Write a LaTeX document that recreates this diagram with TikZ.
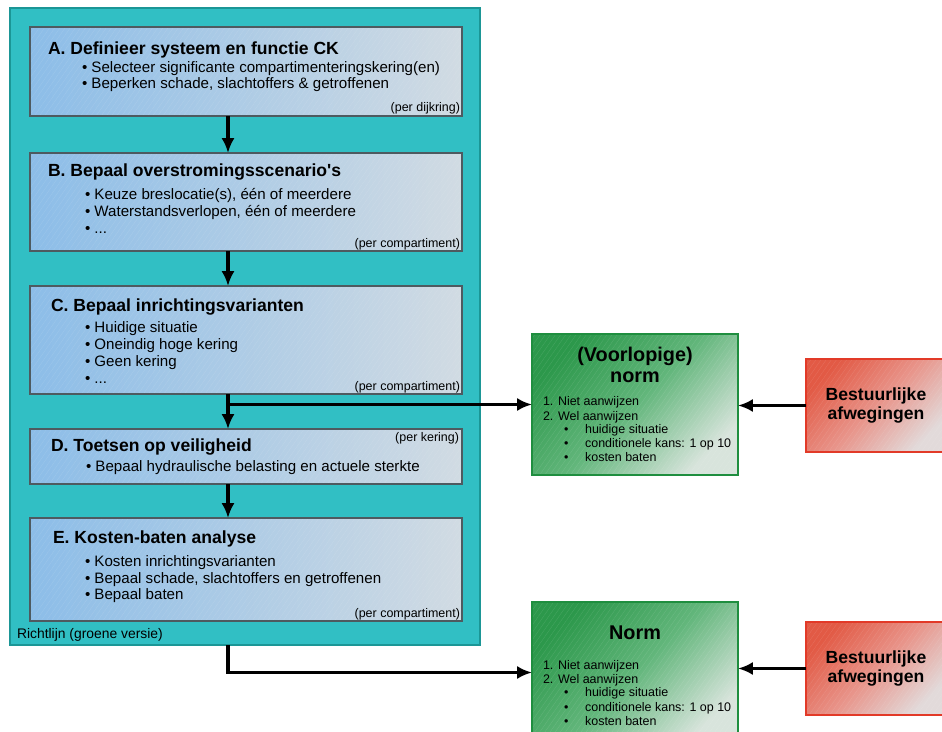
\documentclass[tikz,border=0pt]{standalone}
\usepackage{fontspec}
\setmainfont{Liberation Sans}
\usetikzlibrary{arrows.meta,patterns.meta}

\definecolor{kaderfill}{HTML}{31BFC4}
\definecolor{kaderrand}{HTML}{1B9696}
\definecolor{stapdonker}{HTML}{8CBDE8}
\definecolor{staplicht}{HTML}{D1DBE3}
\definecolor{staprand}{HTML}{4E5A60}
\definecolor{normdonker}{HTML}{2C984B}
\definecolor{normmidden}{HTML}{62B67B}
\definecolor{normlicht}{HTML}{D8E4DC}
\definecolor{normrand}{HTML}{1F8E3F}
\definecolor{bestuurdonker}{HTML}{E25A45}
\definecolor{bestuurmidden}{HTML}{E8948A}
\definecolor{bestuurlicht}{HTML}{E2DADA}
\definecolor{bestuurrand}{HTML}{E23A28}

\tikzset{
  arcering/.style={postaction={transparency group,opacity=0.12,pattern={Lines[angle=55,distance=2.4pt,line width=0.2pt]},pattern color=white}},
  kader/.style={draw=kaderrand,fill=kaderfill,line width=1.2pt,anchor=north west,minimum width=9.4cm,minimum height=12.74cm},
  stap/.style={draw=staprand,line width=0.8pt,left color=stapdonker,right color=staplicht,anchor=north west,minimum width=8.64cm,
    arcering,postaction={draw=staprand,line width=0.8pt}},
  normbox/.style={draw=normrand,line width=1.4pt,top color=normdonker,bottom color=normlicht,middle color=normmidden,shading angle=45,
    anchor=north west,minimum width=4.12cm,minimum height=2.82cm,arcering,postaction={draw=normrand,line width=1.4pt}},
  bestuur/.style={draw=bestuurrand,line width=1.4pt,top color=bestuurdonker,bottom color=bestuurlicht,middle color=bestuurmidden,shading angle=45,
    anchor=north west,minimum width=2.8cm,minimum height=1.86cm,align=center,font=\bfseries\fontsize{10}{11.3}\selectfont,
    arcering,postaction={draw=bestuurrand,line width=1.4pt}},
  kop/.style={anchor=base west,font=\bfseries\fontsize{10}{12}\selectfont},
  punt/.style={anchor=base west,font=\fontsize{8.6}{10}\selectfont},
  schaal/.style={anchor=base east,font=\fontsize{7.1}{8}\selectfont},
  normkop/.style={anchor=base,font=\bfseries\fontsize{11.3}{13}\selectfont},
  normpunt/.style={anchor=base west,font=\fontsize{7.1}{8}\selectfont},
  pijl/.style={-{Latex[length=8.5pt,width=7.5pt]},line width=2.1pt}
}
\newcommand{\subpunt}{\makebox[12pt][l]{\textbullet}}

\begin{document}
\begin{tikzpicture}[x=0.02cm,y=-0.02cm,inner sep=0pt,outer sep=0pt]
  \useasboundingbox (0,0) rectangle (942,731);
  \clip (0,0) rectangle (942,731);

  % richtlijn
  \node[kader] (kader) at (10,8) {};
  \node[anchor=base west,font=\fontsize{7.9}{9}\selectfont] (richtlijn) at (17,638) {Richtlijn (groene versie)};

  % stappen
  \node[stap,minimum height=1.78cm] (stapA) at (30,27) {};
  \node[stap,minimum height=1.96cm] (stapB) at (30,153) {};
  \node[stap,minimum height=2.16cm] (stapC) at (30,286) {};
  \node[stap,minimum height=1.10cm] (stapD) at (30,429) {};
  \node[stap,minimum height=2.06cm] (stapE) at (30,518) {};

  \node[kop] (A-kop) at (48,54) {A. Definieer systeem en functie CK};
  \node[punt] (A-1) at (82,72) {\textbullet\ Selecteer significante compartimenteringskering(en)};
  \node[punt] (A-2) at (82,88) {\textbullet\ Beperken schade, slachtoffers \& getroffenen};
  \node[schaal] (A-tag) at (460,111) {(per dijkring)};

  \node[kop] (B-kop) at (48,176) {B. Bepaal overstromingsscenario\textquotesingle s};
  \node[punt] (B-1) at (85,199) {\textbullet\ Keuze breslocatie(s), één of meerdere};
  \node[punt] (B-2) at (85,216) {\textbullet\ Waterstandsverlopen, één of meerdere};
  \node[punt] (B-3) at (85,233) {\textbullet\ ...};
  \node[schaal] (B-tag) at (460,247) {(per compartiment)};

  \node[kop] (C-kop) at (51,311) {C. Bepaal inrichtingsvarianten};
  \node[punt] (C-1) at (85,332) {\textbullet\ Huidige situatie};
  \node[punt] (C-2) at (85,349) {\textbullet\ Oneindig hoge kering};
  \node[punt] (C-3) at (85,366) {\textbullet\ Geen kering};
  \node[punt] (C-4) at (85,383) {\textbullet\ ...};
  \node[schaal] (C-tag) at (460,390) {(per compartiment)};

  \node[schaal] (D-tag) at (459,441) {(per kering)};
  \node[kop] (D-kop) at (51,451) {D. Toetsen op veiligheid};
  \node[punt] (D-1) at (86,471) {\textbullet\ Bepaal hydraulische belasting en actuele sterkte};

  \node[kop] (E-kop) at (53,543) {E. Kosten-baten analyse};
  \node[punt] (E-1) at (85,566) {\textbullet\ Kosten inrichtingsvarianten};
  \node[punt] (E-2) at (85,583) {\textbullet\ Bepaal schade, slachtoffers en getroffenen};
  \node[punt] (E-3) at (85,599) {\textbullet\ Bepaal baten};
  \node[schaal] (E-tag) at (460,617) {(per compartiment)};

  % normen
  \node[normbox] (voorlopig) at (532,334) {};
  \node[normkop] (V-kop1) at (635,361) {(Voorlopige)};
  \node[normkop] (V-kop2) at (635,382) {norm};
  \node[normpunt] (V-1) at (543,405) {1. Niet aanwijzen};
  \node[normpunt] (V-2) at (543,420) {2. Wel aanwijzen};
  \node[normpunt] (V-3) at (564,433) {\subpunt huidige situatie};
  \node[normpunt] (V-4) at (564,447) {\subpunt conditionele kans: 1 op 10};
  \node[normpunt] (V-5) at (564,461) {\subpunt kosten baten};

  \node[normbox] (norm) at (532,602) {};
  \node[normkop] (N-kop) at (635,639) {Norm};
  \node[normpunt] (N-1) at (543,669) {1. Niet aanwijzen};
  \node[normpunt] (N-2) at (543,683) {2. Wel aanwijzen};
  \node[normpunt] (N-3) at (564,696) {\subpunt huidige situatie};
  \node[normpunt] (N-4) at (564,711) {\subpunt conditionele kans: 1 op 10};
  \node[normpunt] (N-5) at (564,725) {\subpunt kosten baten};

  \node[bestuur] (bestuur1) at (806,359) {Bestuurlijke\\afwegingen};
  \node[bestuur] (bestuur2) at (806,622) {Bestuurlijke\\afwegingen};

  % pijlen
  \coordinate (as) at (228,0);
  \draw[pijl] (stapA.south -| as) -- (stapB.north -| as);
  \draw[pijl] (stapB.south -| as) -- (stapC.north -| as);
  \draw[pijl] (stapC.south -| as) -- (stapD.north -| as);
  \draw[pijl] (stapD.south -| as) -- (stapE.north -| as);
  \coordinate (splitsing) at (as |- voorlopig.west);
  \draw[pijl] (splitsing) -- (voorlopig.west);
  \coordinate (uitgang) at (as |- kader.south);
  \draw[pijl] (uitgang) |- (norm.west);
  \draw[pijl] (bestuur1.west) -- (bestuur1.west -| voorlopig.east);
  \draw[pijl] (bestuur2.west) -- (bestuur2.west -| norm.east);
\end{tikzpicture}
\end{document}
